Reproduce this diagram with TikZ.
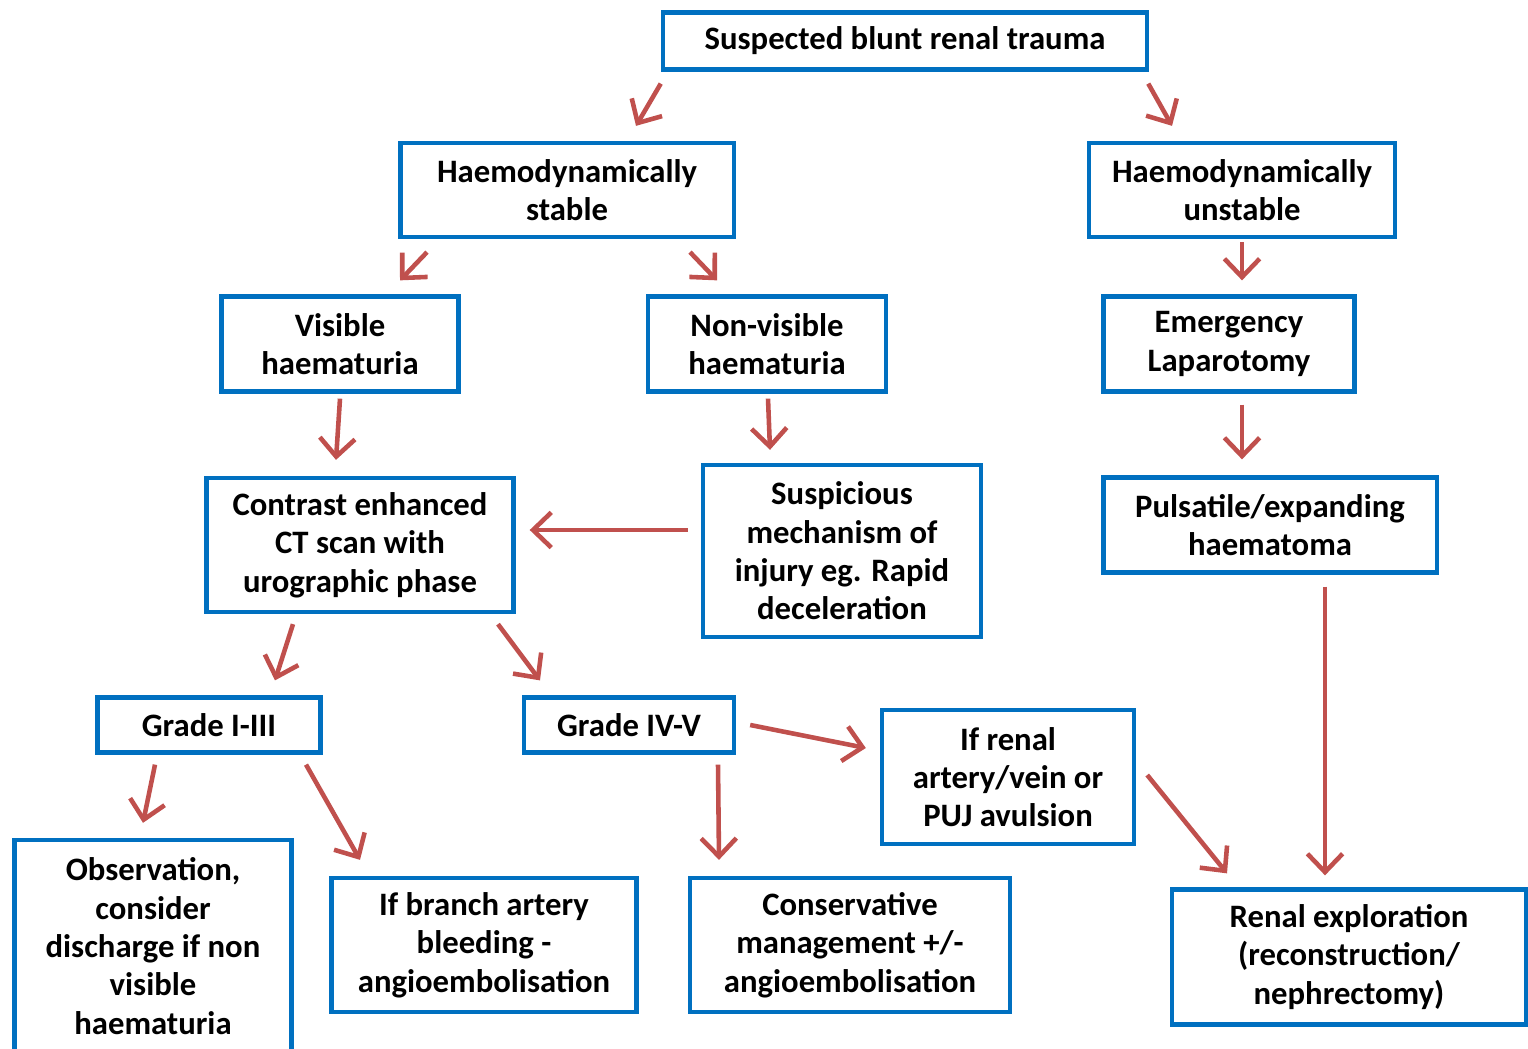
\documentclass[tikz,border=0pt]{standalone}
\usepackage{fontspec}
\setmainfont{Carlito}
\usepackage{xcolor}
\usetikzlibrary{arrows.meta}
\definecolor{boxblue}{HTML}{0070C0}
\definecolor{arrred}{HTML}{C0504D}
\tikzset{
	flowbox/.style={draw=boxblue, line width=1.2pt, fill=white, align=center,
			font=\bfseries\fontsize{9.3}{10.9}\selectfont, inner sep=0pt},
	redarr/.style={draw=arrred, line width=1.3pt,
			-{Straight Barb[length=5.2pt,width=10pt,line width=1.3pt]}}
}

\begin{document}
\begin{tikzpicture}[x=0.01cm,y=-0.01cm]
	\useasboundingbox (0,0) rectangle (1528,1049);
	% boxes
	\node[flowbox, minimum width=4.84cm, minimum height=0.57cm] (suspected) at (905,41) {Suspected blunt renal trauma};
	\node[flowbox, minimum width=3.33cm, minimum height=0.94cm] (stable) at (567,190) {Haemodynamically\\stable};
	\node[flowbox, minimum width=3.06cm, minimum height=0.94cm] (unstable) at (1242,190) {Haemodynamically\\unstable};
	\node[flowbox, minimum width=2.37cm, minimum height=0.95cm] (visible) at (340,344) {Visible\\haematuria};
	\node[flowbox, minimum width=2.38cm, minimum height=0.95cm] (nonvisible) at (767,344) {Non-visible\\haematuria};
	\node[flowbox, minimum width=2.51cm, minimum height=0.95cm] (emergency) at (1229,344) {Emergency\\Laparotomy};
	\node[flowbox, minimum width=3.07cm, minimum height=1.34cm] (ctscan) at (360,545) {Contrast enhanced\\CT scan with\\urographic phase};
	\node[flowbox, minimum width=2.78cm, minimum height=1.72cm] (mechanism) at (842,551) {Suspicious\\mechanism of\\injury eg. Rapid\\deceleration};
	\node[flowbox, minimum width=3.33cm, minimum height=0.95cm] (pulsatile) at (1270,525) {Pulsatile/expanding\\haematoma};
	\node[flowbox, minimum width=2.23cm, minimum height=0.55cm] (gradelow) at (209,725) {Grade I-III};
	\node[flowbox, minimum width=2.10cm, minimum height=0.55cm] (gradehigh) at (629,725) {Grade IV-V};
	\node[flowbox, minimum width=2.52cm, minimum height=1.34cm] (avulsion) at (1008,777) {If renal\\artery/vein or\\PUJ avulsion};
	\node[flowbox, minimum width=2.77cm, minimum height=2.12cm] (observation) at (153,946) {Observation,\\consider\\discharge if non\\visible\\haematuria};
	\node[flowbox, minimum width=3.05cm, minimum height=1.34cm] (branch) at (484,945) {If branch artery\\bleeding -\\angioembolisation};
	\node[flowbox, minimum width=3.20cm, minimum height=1.34cm] (conservative) at (850,945) {Conservative\\management +/-\\angioembolisation};
	\node[flowbox, minimum width=3.54cm, minimum height=1.35cm] (exploration) at (1349,957) {Renal exploration\\(reconstruction/\\nephrectomy)};

	% arrows
	\draw[redarr] ([shift={(0,12)}]suspected.south west) -- ([shift={(69,-15)}]stable.north);
	\draw[redarr] ([shift={(-1,12)}]suspected.south east) -- ([shift={(-70,-15)}]unstable.north);
	\draw[redarr] ([shift={(-140,13)}]stable.south) -- ([shift={(60,-14)}]visible.north);
	\draw[redarr] ([shift={(123,13)}]stable.south) -- ([shift={(-50,-14)}]nonvisible.north);
	\draw[redarr] ([shift={(0,3)}]unstable.south) -- ([shift={(13,-14)}]emergency.north);
	\draw[redarr] ([shift={(0,5)}]visible.south) -- ([shift={(-24,-16)}]ctscan.north);
	\draw[redarr] ([shift={(1,5)}]nonvisible.south) -- ([shift={(-72,-13)}]mechanism.north);
	\draw[redarr] ([shift={(13,11)}]emergency.south) -- ([shift={(-28,-16)}]pulsatile.north);
	\draw[redarr] ([shift={(-13,-21)}]mechanism.west) -- ([shift={(14,-15)}]ctscan.east);
	\draw[redarr] ([shift={(-67,10)}]ctscan.south) -- ([shift={(66,-15)}]gradelow.north);
	\draw[redarr] ([shift={(138,10)}]ctscan.south) -- ([shift={(-89,-15)}]gradehigh.north);
	\draw[redarr] ([shift={(-54,10)}]gradelow.south) -- ([shift={(-10,-15)}]observation.north);
	\draw[redarr] ([shift={(97,10)}]gradelow.south) -- ([shift={(-124,-16)}]branch.north);
	\draw[redarr] ([shift={(14,0)}]gradehigh.east) -- ([shift={(-14,-29)}]avulsion.west);
	\draw[redarr] ([shift={(89,10)}]gradehigh.south) -- ([shift={(-131,-16)}]conservative.north);
	\draw[redarr] ([shift={(11,-2)}]avulsion.east) -- ([shift={(-122,-14)}]exploration.north);
	\draw[redarr] ([shift={(55,12)}]pulsatile.south) -- ([shift={(-24,-12)}]exploration.north);
\end{tikzpicture}
\end{document}
